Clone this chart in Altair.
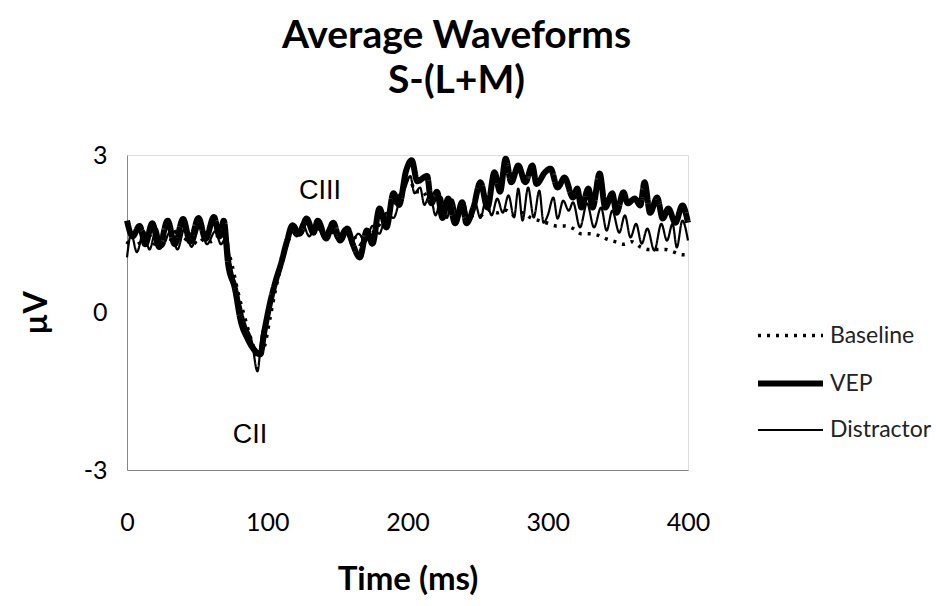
import altair as alt
import pandas as pd

# ---- data ----
vep_t = [0, 4, 9, 13, 18, 23, 29, 34, 40, 45, 51, 56, 62, 66, 69, 72, 77, 81, 86, 91, 95, 98, 103, 106, 110,
         114, 118, 123, 128, 133, 136, 142, 147, 152, 157, 161, 166, 171, 175, 180, 185, 190, 194, 199, 203,
         207, 214, 217, 221, 225, 229, 234, 239, 242, 247, 252, 257, 262, 266, 270, 274, 279, 284, 289, 292,
         298, 302, 307, 312, 318, 321, 324, 329, 332, 337, 341, 346, 349, 354, 357, 362, 366, 369, 373, 378,
         382, 386, 391, 396, 400]
vep_v = [1.75, 1.45, 1.65, 1.3, 1.7, 1.25, 1.75, 1.3, 1.78, 1.35, 1.8, 1.4, 1.82, 1.45, 1.75, 0.95, 0.45, -0.15,
         -0.5, -0.72, -0.8, -0.35, 0.3, 0.6, 0.95, 1.35, 1.66, 1.5, 1.79, 1.52, 1.75, 1.41, 1.71, 1.37, 1.6, 1.3,
         1.05, 1.56, 1.31, 1.98, 1.62, 2.27, 2.05, 2.7, 2.9, 2.5, 2.6, 2.08, 2.3, 1.8, 2.17, 1.7, 2.1, 1.7, 2.0,
         2.48, 2.0, 2.67, 2.3, 2.93, 2.48, 2.8, 2.48, 2.8, 2.45, 2.67, 2.74, 2.38, 2.57, 2.19, 2.36, 2.0, 2.36,
         2.0, 2.65, 2.0, 2.27, 1.9, 2.29, 2.08, 2.17, 2.04, 2.48, 1.9, 2.19, 1.79, 1.98, 1.71, 2.04, 1.71]

dis_t = [0, 3, 7, 12, 16, 21, 25, 31, 36, 41, 46, 52, 57, 63, 67, 71, 74, 79, 84, 89, 93, 96, 100, 104, 108,
         113, 117, 121, 125, 130, 135, 140, 145, 150, 155, 160, 165, 170, 175, 180, 185, 190, 195, 198, 202,
         205, 209, 212, 216, 220, 224, 228, 232, 236, 240, 244, 248, 252, 256, 260, 264, 268, 272, 276, 279,
         282, 286, 290, 294, 297, 300, 304, 307, 311, 315, 318, 323, 328, 333, 338, 342, 346, 351, 355, 359,
         363, 367, 371, 376, 381, 385, 389, 392, 396, 400]
dis_v = [1.05, 1.5, 1.15, 1.55, 1.2, 1.6, 1.25, 1.55, 1.2, 1.6, 1.25, 1.65, 1.3, 1.55, 1.3, 1.45, 0.9, 0.35,
         -0.2, -0.55, -1.12, -0.45, -0.1, 0.45, 0.7, 1.2, 1.55, 1.45, 1.7, 1.45, 1.7, 1.45, 1.65, 1.4, 1.6, 1.35,
         1.5, 1.35, 1.65, 1.5, 1.9, 1.8, 2.2, 2.35, 2.6, 2.27, 2.38, 2.05, 2.25, 1.85, 2.2, 1.8, 2.15, 1.8, 2.1,
         1.75, 2.1, 1.8, 2.15, 1.85, 2.17, 1.9, 2.23, 1.81, 2.36, 1.75, 2.38, 1.81, 2.32, 1.71, 1.85, 2.19, 1.79,
         2.13, 1.94, 2.1, 1.62, 2.08, 1.62, 2.0, 1.56, 1.94, 1.52, 1.85, 1.43, 1.69, 1.31, 1.6, 1.18, 1.69, 1.37,
         1.69, 1.24, 1.75, 1.37]

base_t = [0, 5, 10, 15, 20, 25, 30, 35, 40, 45, 50, 55, 60, 65, 70, 74, 79, 84, 89, 94, 98, 102, 106, 110, 114,
          118, 124, 130, 136, 142, 148, 154, 160, 166, 172, 178, 184, 190, 196, 201, 206, 211, 216, 222, 228, 234,
          240, 246, 252, 258, 264, 270, 276, 282, 288, 294, 300, 306, 312, 318, 324, 330, 336, 342, 348, 354, 360,
          366, 372, 378, 384, 390, 396, 400]
base_v = [1.3, 1.45, 1.3, 1.5, 1.3, 1.5, 1.35, 1.55, 1.35, 1.5, 1.3, 1.4, 1.35, 1.45, 1.3, 1.0, 0.4, -0.1, -0.55,
          -0.85, -0.65, -0.1, 0.45, 0.9, 1.3, 1.5, 1.55, 1.5, 1.6, 1.45, 1.55, 1.45, 1.5, 1.3, 1.45, 1.6, 1.85,
          2.05, 2.3, 2.55, 2.3, 2.3, 2.1, 2.15, 1.95, 1.9, 1.75, 1.85, 1.85, 1.95, 1.9, 1.95, 1.85, 1.9, 1.8, 1.75,
          1.7, 1.65, 1.65, 1.6, 1.5, 1.5, 1.47, 1.4, 1.35, 1.3, 1.35, 1.25, 1.2, 1.2, 1.2, 1.15, 1.1, 1.1]

series_order = ["Baseline", "VEP", "Distractor"]
x_ticks = [0, 100, 200, 300, 400]
y_ticks = [-3, 0, 3]

note_text = ["CIII", "CII"]
note_t = [137.6, 87.7]
note_v = [2.32, -2.34]

rows = []
for name, ts, vs in [("Baseline", base_t, base_v), ("VEP", vep_t, vep_v), ("Distractor", dis_t, dis_v)]:
    for t, v in zip(ts, vs):
        rows.append({"series": name, "t": t, "v": v})
df = pd.DataFrame(rows)
notes = pd.DataFrame({"label": note_text, "t": note_t, "v": note_v})

FONT = "Lato"

x_enc = alt.X("t:Q", scale=alt.Scale(domain=[0, 400], nice=False),
              axis=alt.Axis(values=x_ticks, title="Time (ms)", grid=False, ticks=False, labelFlush=False,
                            domainColor="#868686", labelFontSize=25, labelFont=FONT, labelColor="#000",
                            labelPadding=40, titleFont=FONT, titleFontSize=33, titleFontWeight="bold",
                            titleColor="#000", titlePadding=28))
y_enc = alt.Y("v:Q", scale=alt.Scale(domain=[-3, 3], nice=False),
              axis=alt.Axis(values=y_ticks, title="µV", grid=False, ticks=False, labelFlush=False,
                            domainColor="#868686", labelFontSize=25, labelFont=FONT, labelColor="#000",
                            labelPadding=20, labelExpr="replace(datum.label, '\u2212', '-')",
                            titleFont=FONT, titleFontSize=32, titleFontWeight="bold",
                            titleColor="#000", titlePadding=30))

legend = alt.Legend(title=None, orient="none", legendX=628, legendY=146, symbolType="stroke",
                    symbolSize=4225, symbolStrokeColor="black", labelFont=FONT, labelFontSize=23,
                    labelColor="#222", rowPadding=0, labelOffset=4)

lines = alt.Chart(df).mark_line(interpolate="monotone", color="black").encode(
    x=x_enc,
    y=y_enc,
    strokeDash=alt.StrokeDash("series:N", sort=series_order,
                              scale=alt.Scale(domain=series_order, range=[[3, 6], [1, 0], [1, 0]]),
                              legend=legend),
    strokeWidth=alt.StrokeWidth("series:N", sort=series_order,
                                scale=alt.Scale(type="ordinal", domain=series_order, range=[3.5, 6, 2.2]),
                                legend=legend),
    order="t:Q",
)

text = alt.Chart(notes).mark_text(font="Liberation Sans", fontSize=27, color="black").encode(
    x="t:Q", y="v:Q", text="label:N"
)

chart = alt.layer(lines, text).properties(
    width=561, height=315,
    autosize=alt.AutoSizeParams(type="none"),
    padding={"left": 127, "top": 155, "right": 248, "bottom": 136},
    title=alt.TitleParams(["Average Waveforms", "S-(L+M)"], font=FONT, fontSize=39, fontWeight="bold",
                          color="#000", anchor="middle", frame="group", dx=49, offset=42, lineHeight=45),
).configure_view(stroke=None).configure(background="white")

chart.save("out.html", embed_options={"renderer": "svg", "actions": False})
